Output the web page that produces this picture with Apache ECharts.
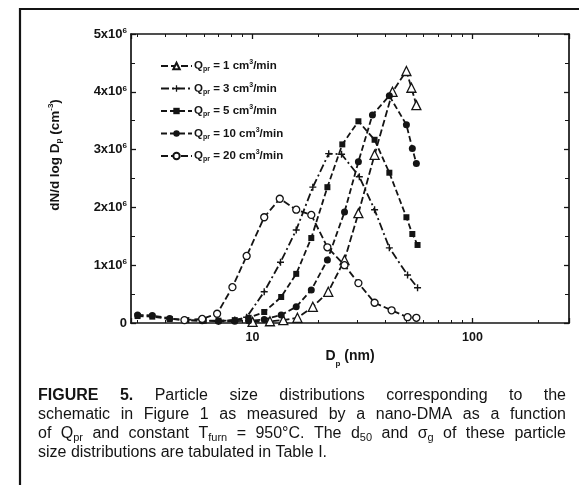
<!DOCTYPE html>
<html><head><meta charset="utf-8">
<script src="https://cdn.jsdelivr.net/npm/echarts@6/dist/echarts.min.js"></script>
<style>html,body{margin:0;padding:0;background:#fff}#c{width:579px;height:485px}</style>
</head><body><div id="c"></div>
<script>
// ---- axis ranges / ticks ----
const xMin = 2.8, xMax = 275;
const yMax = 5e6, yStep = 1e6;

// ---- data (D_p in nm, dN/dlogDp in units of 1e6 cm^-3) ----
const q1Name = 'Q1';
const q1D = [10.0, 12.0, 13.8, 16.0, 18.8, 22.1, 26.2, 30.3, 35.9, 43.3, 50.1, 52.8, 55.6];
const q1V = [0.02, 0.03, 0.05, 0.09, 0.28, 0.54, 1.09, 1.90, 2.91, 4.00, 4.36, 4.07, 3.77];

const q3Name = 'Q3';
const q3D = [7.0, 8.3, 9.4, 11.3, 13.4, 15.8, 18.8, 22.2, 25.4, 30.6, 35.9, 41.9, 50.7, 56.3];
const q3V = [0.03, 0.05, 0.10, 0.54, 1.05, 1.61, 2.35, 2.93, 2.92, 2.53, 1.96, 1.30, 0.83, 0.61];

const q5Name = 'Q5';
const q5D = [3.0, 3.5, 4.2, 5.0, 6.0, 7.0, 8.3, 9.6, 11.3, 13.5, 15.8, 18.5, 21.9, 25.6, 30.3, 35.9, 41.9, 50.1, 53.3, 56.3];
const q5V = [0.12, 0.11, 0.07, 0.05, 0.04, 0.04, 0.05, 0.09, 0.19, 0.45, 0.85, 1.47, 2.35, 3.09, 3.49, 3.17, 2.60, 1.83, 1.54, 1.35];

const q10Name = 'Q10';
const q10D = [3.0, 3.5, 4.2, 4.9, 5.9, 7.0, 8.3, 9.6, 11.3, 13.5, 15.8, 18.5, 21.9, 26.2, 30.3, 35.1, 41.9, 50.1, 53.3, 55.6];
const q10V = [0.14, 0.13, 0.08, 0.05, 0.04, 0.03, 0.03, 0.04, 0.06, 0.14, 0.28, 0.57, 1.09, 1.92, 2.79, 3.60, 3.93, 3.43, 3.02, 2.76];

const q20Name = 'Q20';
const q20D = [4.9, 5.9, 6.9, 8.1, 9.4, 11.3, 13.3, 15.8, 18.5, 21.9, 26.2, 30.3, 35.9, 42.9, 50.7, 55.6];
const q20V = [0.05, 0.07, 0.16, 0.62, 1.16, 1.83, 2.15, 1.96, 1.87, 1.31, 1.00, 0.69, 0.35, 0.22, 0.10, 0.09];

const legendLabels = {
  Q1: '{n|Q}{s|pr}{n| = 1 cm}{p|3}{n|/min}',
  Q3: '{n|Q}{s|pr}{n| = 3 cm}{p|3}{n|/min}',
  Q5: '{n|Q}{s|pr}{n| = 5 cm}{p|3}{n|/min}',
  Q10: '{n|Q}{s|pr}{n| = 10 cm}{p|3}{n|/min}',
  Q20: '{n|Q}{s|pr}{n| = 20 cm}{p|3}{n|/min}'
};

const captionLines = [
  [[['FIGURE', 'b']], [['5.', 'b']], [['Particle']], [['size']], [['distributions']], [['corresponding']], [['to']], [['the']]],
  'schematic in Figure 1 as measured by a nano-DMA as a function'.split(' ').map(w => [[w]]),
  [[['of']], [['Q'], ['pr', 's']], [['and']], [['constant']], [['T'], ['furn', 's']], [['=']], [['950°C.']], [['The']], [['d'], ['50', 's']], [['and']], [['σ'], ['g', 's']], [['of']], [['these']], [['particle']]],
  'size distributions are tabulated in Table I.'.split(' ').map(w => [[w]])
];

const INK = '#141414';
const FONT = '"Liberation Sans", Arial, sans-serif';

function pts(D, V) { return D.map((d, i) => [d, V[i] * 1e6]); }

function mkSeries(name, D, V, symbol, size, fill, dash) {
  return {
    name, type: 'line', data: pts(D, V), symbol, symbolSize: size,
    showAllSymbol: true, smooth: false, animation: false,
    lineStyle: { color: INK, width: 1.8, type: dash },
    itemStyle: { color: fill, borderColor: INK, borderWidth: fill === '#fff' ? 1.3 : 0 },
    emphasis: { disabled: true }
  };
}

const plusPath = 'path://M4,0H6V4H10V6H6V10H4V6H0V4H4Z';

// caption layout (justified)
const capX0 = 38, capX1 = 566, capY0 = 396, capLH = 19;
const cv = document.createElement('canvas').getContext('2d');
function segFont(kind, fs) {
  if (kind === 'b') return 'bold ' + fs + 'px ' + FONT;
  if (kind === 's') return Math.round(fs * 0.68) + 'px ' + FONT;
  return fs + 'px ' + FONT;
}
function wordWidth(word, fs) {
  let w = 0;
  word.forEach(s => { cv.font = segFont(s[1], fs); w += cv.measureText(s[0]).width; });
  return w;
}
let fs = 15;
cv.font = segFont('', fs);
const natural = cv.measureText(captionLines[1].map(w => w[0][0]).join(' ')).width;
fs = Math.min(16, fs * (capX1 - capX0) / natural);
const capGraphics = [];
captionLines.forEach((line, li) => {
  const widths = line.map(w => wordWidth(w, fs));
  const total = widths.reduce((a, b) => a + b, 0);
  cv.font = segFont('', fs);
  const spaceW = cv.measureText(' ').width;
  const last = li === captionLines.length - 1;
  const gap = last ? spaceW : ((capX1 - capX0) - total) / (line.length - 1);
  let x = capX0;
  const y = capY0 + li * capLH;
  line.forEach((word, wi) => {
    let sx = x;
    word.forEach(s => {
      cv.font = segFont(s[1], fs);
      capGraphics.push({
        type: 'text', x: sx, y: s[1] === 's' ? y + 4 : y, silent: true,
        style: { text: s[0], font: segFont(s[1], fs), fill: INK, textAlign: 'left', textVerticalAlign: 'middle' }
      });
      sx += cv.measureText(s[0]).width;
    });
    x += widths[wi] + gap;
  });
});

const chart = echarts.init(document.getElementById('c'), null, { renderer: 'canvas' });

const axisCommon = {
  axisLine: { show: true, onZero: false, lineStyle: { color: INK, width: 1.7 } },
  axisTick: { show: true, inside: true, length: 5, lineStyle: { color: INK, width: 1.3 } },
  minorTick: { show: true, length: 3, lineStyle: { color: INK, width: 1 } },
  splitLine: { show: false }
};

const option = {
  backgroundColor: '#fff',
  animation: false,
  textStyle: { fontFamily: FONT },
  grid: { left: 131, right: 10, top: 34, bottom: 162, containLabel: false },
  xAxis: [
    Object.assign({}, axisCommon, {
      type: 'log', logBase: 10, min: xMin, max: xMax, position: 'bottom',
      minorTick: Object.assign({}, axisCommon.minorTick, { splitNumber: 9 }),
      axisLabel: {
        show: true, margin: 8, showMinLabel: false, showMaxLabel: false,
        color: INK, fontSize: 12.5, fontWeight: 'bold', fontFamily: FONT,
        formatter: v => (Math.abs(Math.log10(v) - Math.round(Math.log10(v))) < 1e-6) ? String(Math.round(v)) : ''
      },
      name: '{n|D}{s|p}{n| (nm)}', nameLocation: 'middle', nameGap: 23,
      nameTextStyle: {
        rich: {
          n: { fontSize: 14, fontWeight: 'bold', color: INK, fontFamily: FONT, lineHeight: 17 },
          s: { fontSize: 8, fontWeight: 'bold', color: INK, fontFamily: FONT, verticalAlign: 'bottom', lineHeight: 8, padding: [0, 0, -3, 0] }
        }
      }
    }),
    Object.assign({}, axisCommon, {
      type: 'log', logBase: 10, min: xMin, max: xMax, position: 'top',
      minorTick: Object.assign({}, axisCommon.minorTick, { splitNumber: 9 }),
      axisLabel: { show: false }
    })
  ],
  yAxis: [
    Object.assign({}, axisCommon, {
      type: 'value', min: 0, max: yMax, interval: yStep, position: 'left',
      minorTick: Object.assign({}, axisCommon.minorTick, { splitNumber: 2, length: 4 }),
      axisLabel: {
        show: true, margin: 4, color: INK, fontFamily: FONT,
        formatter: v => v === 0 ? '{b|0}' : '{b|' + (v / 1e6) + 'x10}{p|6}',
        rich: {
          b: { fontSize: 13, fontWeight: 'bold', color: INK, fontFamily: FONT, lineHeight: 15 },
          p: { fontSize: 8, fontWeight: 'bold', color: INK, fontFamily: FONT, verticalAlign: 'top', lineHeight: 7 }
        }
      }
    }),
    Object.assign({}, axisCommon, {
      type: 'value', min: 0, max: yMax, interval: yStep, position: 'right',
      minorTick: Object.assign({}, axisCommon.minorTick, { splitNumber: 2, length: 4 }),
      axisLabel: { show: false }
    })
  ],
  legend: {
    orient: 'vertical', left: 155, top: 54, itemWidth: 31, itemHeight: 8, itemGap: 8.5,
    selectedMode: false,
    data: [q1Name, q3Name, q5Name, q10Name, q20Name],
    formatter: n => legendLabels[n],
    textStyle: {
      padding: [0, 0, 0, -3],
      rich: {
        n: { fontSize: 11.5, fontWeight: 'bold', color: INK, fontFamily: FONT, lineHeight: 14 },
        s: { fontSize: 7, fontWeight: 'bold', color: INK, fontFamily: FONT, verticalAlign: 'bottom', lineHeight: 6 },
        p: { fontSize: 7, fontWeight: 'bold', color: INK, fontFamily: FONT, verticalAlign: 'top', lineHeight: 6 }
      }
    }
  },
  series: [
    mkSeries(q1Name, q1D, q1V, 'triangle', 9, '#fff', [7, 3]),
    mkSeries(q3Name, q3D, q3V, plusPath, 7, INK, [8, 3, 2, 3]),
    mkSeries(q5Name, q5D, q5V, 'rect', 6, INK, [6, 3]),
    mkSeries(q10Name, q10D, q10V, 'circle', 7, INK, [6, 3]),
    mkSeries(q20Name, q20D, q20V, 'circle', 7, '#fff', [7, 3])
  ],
  graphic: [
    {
      type: 'polyline', silent: true,
      shape: { points: [[20, 485], [20, 9], [579, 9]] },
      style: { stroke: INK, lineWidth: 2.2, fill: null }
    },
    {
      type: 'text', x: 55, y: 155, rotation: Math.PI / 2, silent: true,
      style: {
        text: '{n|dN/d log D}{s|p}{n| (cm}{p|-3}{n|)}',
        textAlign: 'center', textVerticalAlign: 'middle',
        rich: {
          n: { fontSize: 13.5, fontWeight: 'bold', fill: INK, fontFamily: FONT, lineHeight: 16 },
          s: { fontSize: 8, fontWeight: 'bold', fill: INK, fontFamily: FONT, verticalAlign: 'bottom', lineHeight: 7 },
          p: { fontSize: 8, fontWeight: 'bold', fill: INK, fontFamily: FONT, verticalAlign: 'top', lineHeight: 7 }
        }
      }
    }
  ].concat(capGraphics)
};
chart.setOption(option);
</script>
</body></html>
